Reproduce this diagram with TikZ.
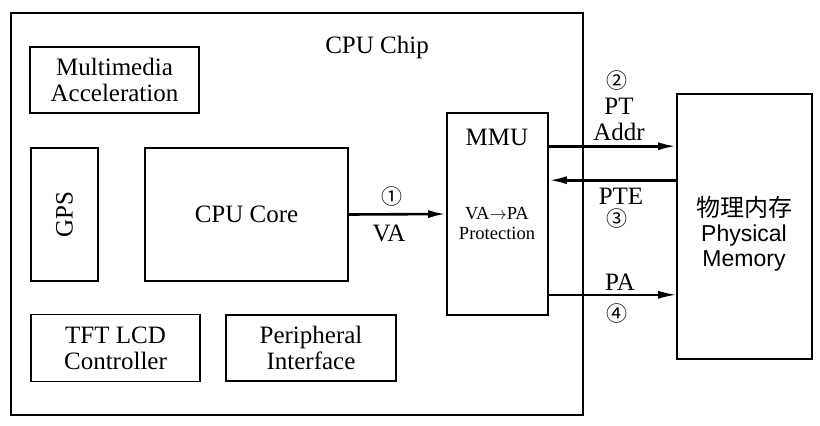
\documentclass[tikz,border=0pt]{standalone}
\usepackage{fontspec}
\setmainfont{Liberation Serif}
\newfontfamily\sansfont{Liberation Sans}
\newfontfamily\cjkfont{Noto Sans CJK SC}
\usetikzlibrary{arrows.meta,positioning}

\begin{document}
\begin{tikzpicture}[
    x=1pt, y=-1pt,
    every node/.style={font=\fontsize{25}{26}\selectfont, align=center},
    block/.style={draw, line width=1.6pt, inner sep=0pt},
    bus/.style={-{Latex[length=18pt,width=8pt]}, line width=2.6pt},
    numlabel/.style={font=\cjkfont\fontsize{21}{22}\selectfont, inner sep=0pt},
  ]
  \useasboundingbox (0,0) rectangle (820,426);

  % chip outline and on-chip blocks
  \node[block, minimum width=572, minimum height=402] (chip) at (297,214) {};
  \node (chiplabel) at (377,47) {CPU Chip};
  \node[block, minimum width=169, minimum height=66] (media) at (114.5,80)
    {Multimedia\\Acceleration};
  \node[block, minimum width=67, minimum height=133] (gps) at (64.5,214.5) {};
  \node[rotate=90] (gpslabel) at (gps.center) {GPS};
  \node[block, minimum width=203, minimum height=133] (core) at (246.5,214.5)
    {CPU Core};
  \node[block, minimum width=169, minimum height=67] (lcd) at (115.5,348)
    {TFT LCD\\Controller};
  \node[block, minimum width=170, minimum height=66] (periph) at (311,348)
    {Peripheral\\Interface};

  % MMU
  \node[block, minimum width=101, minimum height=202] (mmu) at (497.5,214) {};
  \node (mmulabel) at (497,137) {MMU};
  \node[font=\fontsize{18.5}{20}\selectfont] (mmutask) at (497,223)
    {VA$\rightarrow$PA\\Protection};

  % off-chip memory
  \node[block, minimum width=135, minimum height=265] (mem) at (744.5,226.5) {};
  \node[font=\sansfont\fontsize{23}{25}\selectfont] (memlabel) at (744,234)
    {{\cjkfont\fontsize{24}{25}\selectfont 物理内存}\\Physical\\Memory};

  % translation steps
  \draw[bus] (core.east) -- (mmu.west);
  \node[numlabel] (n1) at (392,197) {①};
  \node (va) at (389,233) {VA};

  \coordinate (ptaddr) at ([yshift=-34pt]mmu.north east);
  \draw[bus] (ptaddr) -- (ptaddr -| mem.west);
  \node[numlabel] (n2) at (617,81) {②};
  \node (ptaddrlabel) at (619,119) {PT\\Addr};

  \coordinate (pte) at ([yshift=-68pt]mmu.north east);
  \draw[bus] (pte -| mem.west) -- (pte);
  \node (ptelabel) at (621,196) {PTE};
  \node[numlabel] (n3) at (617,219) {③};

  \coordinate (pa) at ([yshift=21pt]mmu.south east);
  \draw[bus, line width=1.8pt] (pa) -- (pa -| mem.west);
  \node (palabel) at (620,282) {PA};
  \node[numlabel] (n4) at (617,314) {④};
\end{tikzpicture}
\end{document}
